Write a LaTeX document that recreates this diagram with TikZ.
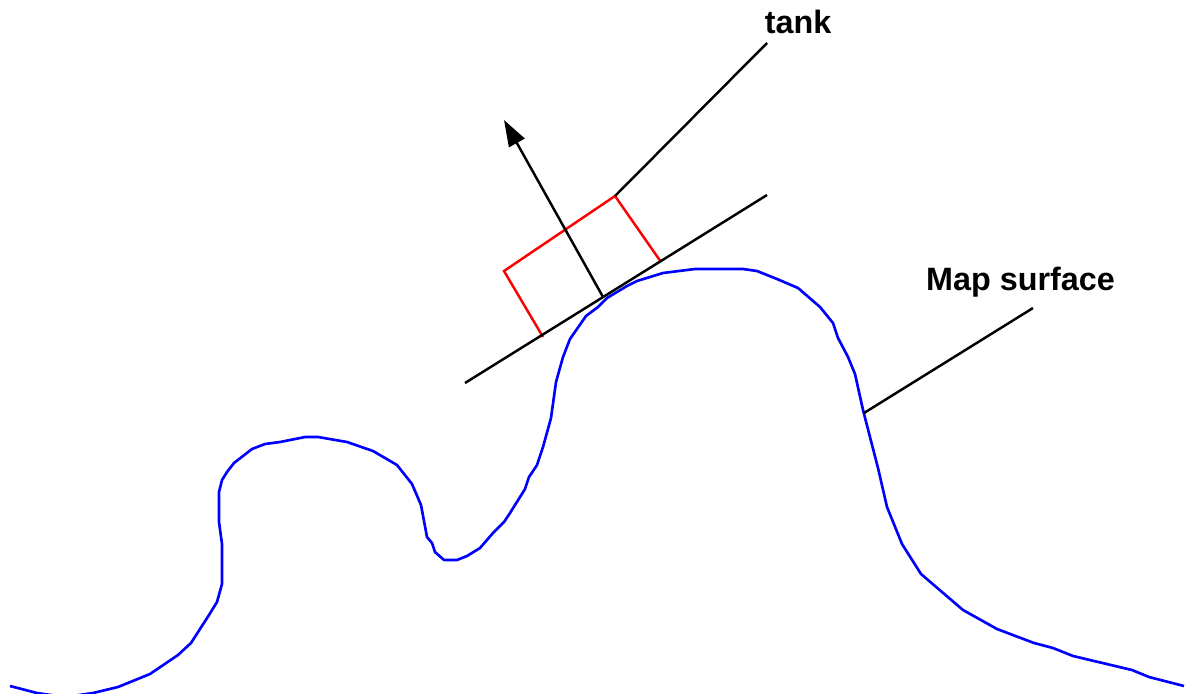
\documentclass[tikz,border=0pt]{standalone}
\usepackage{fontspec}
\setmainfont{Liberation Sans}
\usetikzlibrary{arrows.meta}
\definecolor{mapBlue}{HTML}{0000ff}
\definecolor{tankRed}{HTML}{ff0000}

\begin{document}
\begin{tikzpicture}[x=0.02cm, y=-0.02cm,
  surface/.style={draw=mapBlue, line width=1.5pt, line join=round},
  tankbody/.style={draw=tankRed, line width=1.4pt, line join=miter},
  guide/.style={draw=black, line width=1.4pt},
  caption/.style={font=\fontsize{18.4}{22}\selectfont\bfseries, inner sep=0pt}]
\useasboundingbox (0,0) rectangle (1189,693);
% terrain
\draw[surface] (10,686) -- (37,693) -- (65,697) -- (93,693) -- (118,687) -- (150,674) -- (178,655) -- (191,643)
  -- (209,615) -- (217,602) -- (222,584) -- (222,544) -- (219,522) -- (219,492) -- (222,480) -- (227,472)
  -- (234,463) -- (252,449) -- (265,444) -- (280,442) -- (305,437) -- (318,437) -- (347,442) -- (373,451)
  -- (397,465) -- (412,484) -- (421,505) -- (427,537) -- (432,543) -- (435,552) -- (444,560) -- (457,560)
  -- (467,556) -- (480,548) -- (493,533) -- (504,522) -- (510,513) -- (525,489) -- (529,477) -- (537,465)
  -- (543,447) -- (551,418) -- (556,382) -- (563,357) -- (570,339) -- (586,316) -- (598,307) -- (607,298)
  -- (627,286) -- (637,281) -- (663,273) -- (695,269) -- (743,269) -- (757,271) -- (777,279) -- (798,288)
  -- (820,307) -- (833,323) -- (838,338) -- (848,357) -- (855,374) -- (863,410) -- (878,468) -- (887,507)
  -- (902,544) -- (921,574) -- (963,610) -- (997,629) -- (1034,643) -- (1053,648) -- (1073,656) -- (1132,670)
  -- (1149,677) -- (1184,686);
% tank
\coordinate (tankA) at (543,337);
\coordinate (tankB) at (504,271);
\coordinate (tankC) at (615,196);
\coordinate (tankD) at (661,262);
\draw[tankbody] (tankA) -- (tankB) -- (tankC) -- (tankD);
% tangent and normal
\coordinate (tangentL) at (465,383);
\coordinate (tangentR) at (767,195);
\coordinate (contact) at (603,297);
\coordinate (normalTip) at (504,120);
\draw[guide] (tangentL) -- (tangentR);
\draw[guide, -{Triangle[length=15pt, width=10pt]}] (contact) -- (normalTip);
% labels
\node[caption] (tankLabel) at (798,22) {tank};
\node[caption] (mapLabel) at (1020.5,282) {Map surface};
\coordinate (tankEnd) at (767,43);
\coordinate (mapEnd) at (1033,308);
\coordinate (mapFoot) at (864,413);
\draw[guide] (tankC) -- (tankEnd);
\draw[guide] (mapFoot) -- (mapEnd);
\end{tikzpicture}
\end{document}
